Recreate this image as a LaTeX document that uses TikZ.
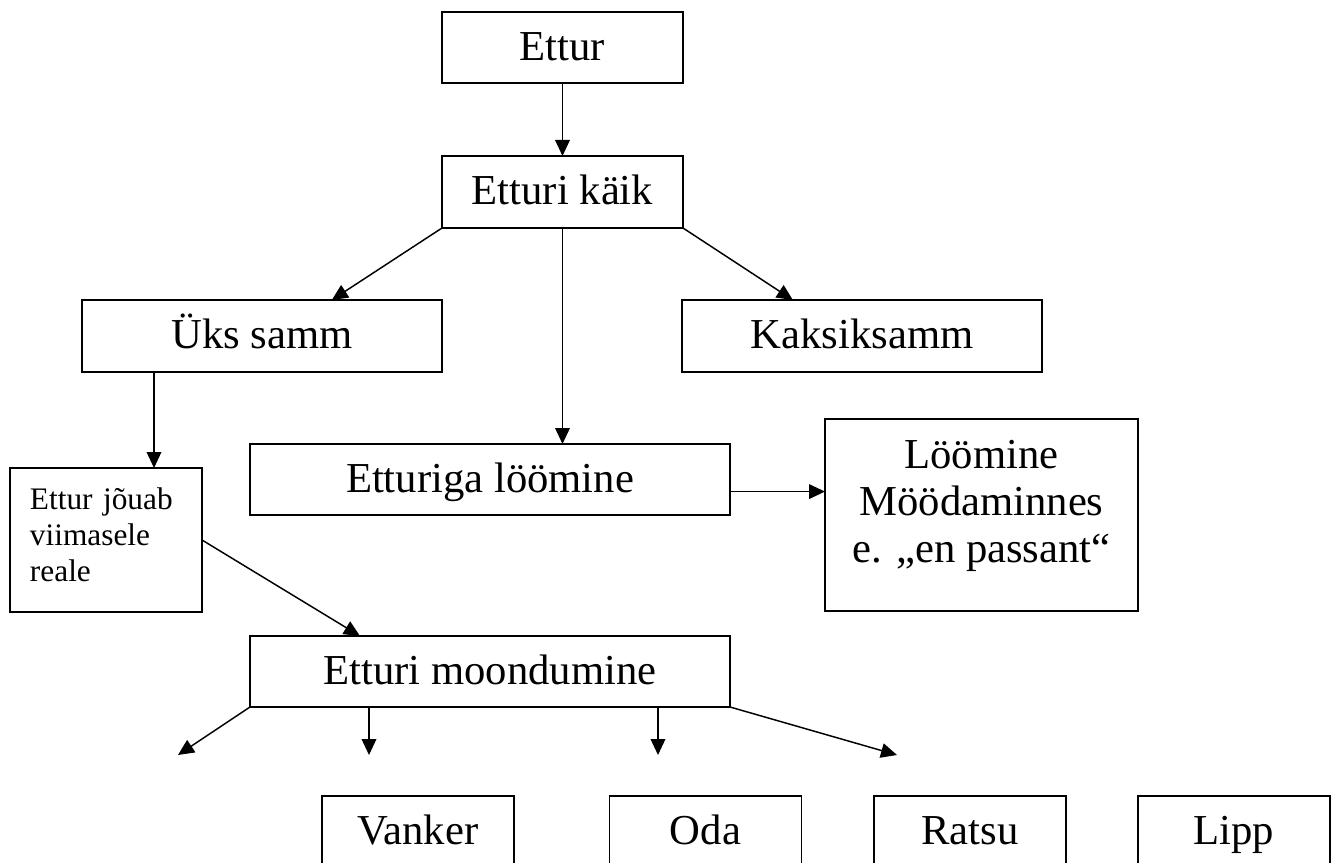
\documentclass[tikz,border=0pt]{standalone}
\usepackage{fontspec}
\setmainfont{Liberation Serif}
\usetikzlibrary{arrows.meta,calc}
\begin{document}
\begin{tikzpicture}[x=0.75pt,y=-0.75pt,
  box/.style={draw,line width=1.2pt,inner sep=0pt,outer sep=0pt,align=center,
    font=\fontsize{32pt}{35pt}\selectfont},
  one/.style={text height=24pt,text depth=5pt},
  arr/.style={line width=1.1pt,-{Triangle[length=12pt,width=11pt]}}]
\useasboundingbox (0,0) rectangle (1340,863);
\clip (0,0) rectangle (1340,863);
\node[box,one,minimum width={241*0.75pt},minimum height={71*0.75pt}] (ettur) at (562.5,47.5) {Ettur};
\node[box,one,minimum width={241*0.75pt},minimum height={72*0.75pt}] (kaik) at (562.5,192) {Etturi käik};
\node[box,one,minimum width={360*0.75pt},minimum height={72*0.75pt}] (uks) at (262,336) {Üks samm};
\node[box,one,minimum width={360*0.75pt},minimum height={72*0.75pt}] (kaksik) at (862,336) {Kaksiksamm};
\node[box,one,minimum width={480*0.75pt},minimum height={71*0.75pt}] (loom) at (490,479.5) {Etturiga löömine};
\node[box,text depth=20.5pt,minimum width={313*0.75pt},minimum height={192*0.75pt}] (enp) at (981.5,515) {Löömine\\Möödaminnes\\e. „en passant“};
\node[box,minimum width={192*0.75pt},minimum height={144*0.75pt},align=left,text width={152*0.75pt},
  text depth=62pt,font=\fontsize{23.5pt}{27pt}\selectfont] (jouab) at (106,540) {Ettur jõuab\\viimasele\\reale};
\node[box,one,minimum width={480*0.75pt},minimum height={71*0.75pt}] (moond) at (490,671.5) {Etturi moondumine};
\node[box,one,minimum width={192*0.75pt},minimum height={72*0.75pt}] (vanker) at (418,832) {Vanker};
\node[box,one,minimum width={192*0.75pt},minimum height={72*0.75pt}] (oda) at (705.5,832) {Oda};
\node[box,one,minimum width={192*0.75pt},minimum height={72*0.75pt}] (ratsu) at (970,832) {Ratsu};
\node[box,one,minimum width={192*0.75pt},minimum height={72*0.75pt}] (lipp) at (1234,832) {Lipp};

\coordinate (a1) at (178,755);
\coordinate (a2) at (369,755);
\coordinate (a3) at (658,755);
\coordinate (a4) at (897,755);

\draw[arr] (ettur.south) -- (kaik.north);
\draw[arr] (kaik.south west) -- ($(uks.north west)!0.694!(uks.north east)$);
\draw[arr] (kaik.south east) -- ($(kaksik.north west)!0.308!(kaksik.north east)$);
\draw[arr] (kaik.south) -- (kaik.south |- loom.north);
\draw[arr] ($(uks.south west)!0.2!(uks.south east)$) coordinate (u1) -- (u1 |- jouab.north);
\draw[arr] ($(loom.south east)!0.33!(loom.north east)$) coordinate (l1) -- (l1 -| enp.west);
\draw[arr] (jouab.east) -- ($(moond.north west)!0.229!(moond.north east)$);
\draw[arr] (moond.south west) -- (a1);
\draw[arr] (a2 |- moond.south) -- (a2);
\draw[arr] (a3 |- moond.south) -- (a3);
\draw[arr] (moond.south east) -- (a4);
\end{tikzpicture}
\end{document}
